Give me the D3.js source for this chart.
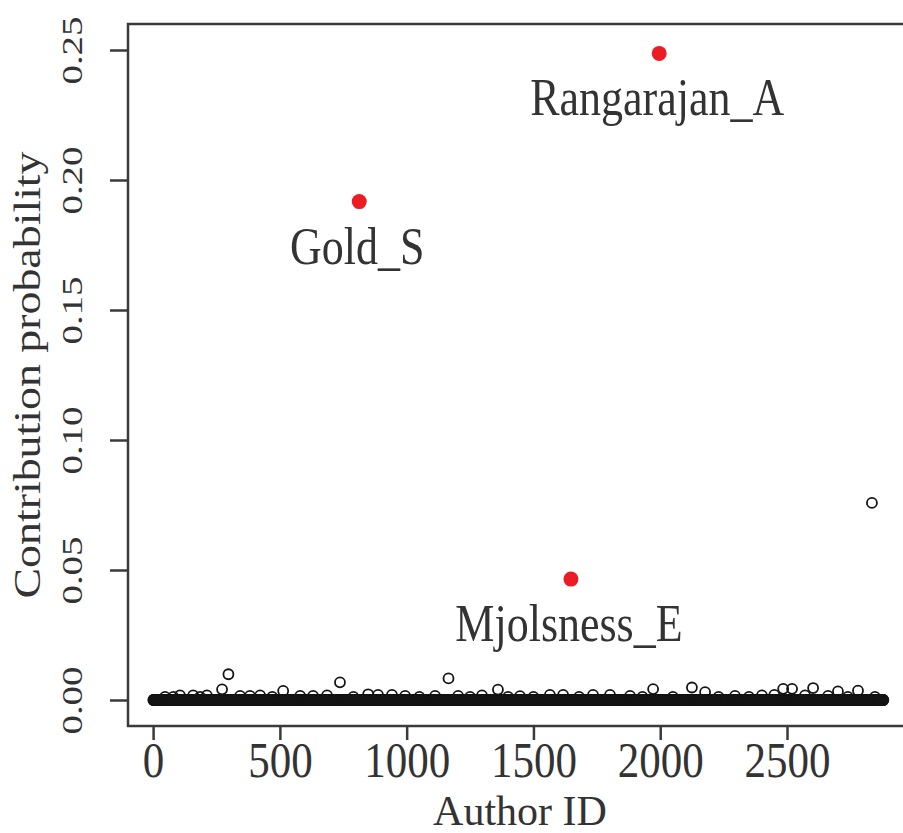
<!DOCTYPE html>
<html><head><meta charset="utf-8">
<script src="https://cdn.jsdelivr.net/npm/d3@7"></script>
<style>html,body{margin:0;padding:0;background:#fff;overflow:hidden}</style>
</head><body><svg id="chart" width="903" height="833"></svg>
<script>
// ---- data ----
const authorCount = 2880;          // authors plotted along the x axis
const baselineValue = 0;           // the bulk of authors sit at ~0
const bumpIds    = [47,80,106,158,185,212,343,382,422,470,580,631,686,790,848,887,942,994,1050,1112,1203,1250,1297,1400,1447,1500,1565,1617,1680,1735,1802,1881,1930,2050,2230,2295,2350,2401,2450,2571,2662,2740,2847];
const bumpValues = [0.0012,0.0012,0.0018,0.0018,0.0012,0.0018,0.0016,0.0016,0.0018,0.0012,0.0016,0.0016,0.0018,0.0012,0.0022,0.0020,0.0020,0.0016,0.0012,0.0016,0.0016,0.0012,0.0018,0.0012,0.0015,0.0012,0.0020,0.0020,0.0012,0.0020,0.0020,0.0016,0.0012,0.0012,0.0012,0.0016,0.0012,0.0018,0.0020,0.0018,0.0016,0.0012,0.0012];
const outlierIds    = [272,297,513,737,1165,1360,1972,2125,2177,2485,2520,2603,2701,2780,2835];
const outlierValues = [0.0041,0.0099,0.0035,0.0068,0.0083,0.0040,0.0042,0.0048,0.0030,0.0043,0.0043,0.0046,0.0033,0.0036,0.0758];
const highlightNames  = ["Gold_S","Rangarajan_A","Mjolsness_E"];
const highlightIds    = [813,1996,1648];
const highlightValues = [0.1917,0.2487,0.0465];
const xTicks = [0,500,1000,1500,2000,2500];
const yTicks = [0,0.05,0.10,0.15,0.20,0.25];
const xLimits = [-99, 2993];
const yLimits = [-0.01, 0.26];
const xTitle = "Author ID";
const yTitle = "Contribution probability";

// ---- layout ----
const M = {left:128, top:24, right:912, bottom:726};
const FONT = "'Liberation Serif','Times New Roman',serif";
const INK = "#333";

const svg = d3.select("#chart");
const x = d3.scaleLinear().domain(xLimits).range([M.left, M.right]);
const y = d3.scaleLinear().domain(yLimits).range([M.bottom, M.top]);

const valueById = new Map();
bumpIds.forEach((id,i)=>valueById.set(id,bumpValues[i]));
outlierIds.forEach((id,i)=>valueById.set(id,outlierValues[i]));
const points = d3.range(1, authorCount+1).map(id => ({id, value: valueById.has(id) ? valueById.get(id) : baselineValue}));

// points
svg.append("g").selectAll("circle").data(points).join("circle")
  .attr("cx", d=>x(d.id)).attr("cy", d=>y(d.value)).attr("r", 5)
  .attr("fill","none").attr("stroke","#151515").attr("stroke-width",1.8);

const hl = highlightNames.map((n,i)=>({name:n, id:highlightIds[i], value:highlightValues[i]}));
svg.append("g").selectAll("circle").data(hl).join("circle")
  .attr("cx", d=>x(d.id)).attr("cy", d=>y(d.value)).attr("r", 7.5)
  .attr("fill","#ec1c24");
svg.append("g").selectAll("text").data(hl).join("text")
  .attr("transform", d=>`translate(${x(d.id)-2},${y(d.value)+62}) scale(1,1.2)`)
  .attr("text-anchor","middle").style("font-family",FONT).style("font-size","44px")
  .attr("fill",INK).text(d=>d.name);

// box
svg.append("rect").attr("x",M.left).attr("y",M.top)
  .attr("width",M.right-M.left).attr("height",M.bottom-M.top)
  .attr("fill","none").attr("stroke","#3a3a3a").attr("stroke-width",2.5);

// x axis
const gx = svg.append("g").attr("transform",`translate(0,${M.bottom})`)
  .call(d3.axisBottom(x).tickValues(xTicks).tickSize(14).tickSizeOuter(0).tickFormat(d3.format("d")));
gx.select(".domain").remove();
gx.selectAll(".tick line").attr("stroke","#3a3a3a").attr("stroke-width",2.5);
gx.selectAll(".tick text").attr("y",0).attr("dy",0)
  .attr("transform","translate(0,51) scale(1,1.17)")
  .style("font-family",FONT).style("font-size","43px").attr("fill",INK);

// y axis
const gy = svg.append("g").attr("transform",`translate(${M.left},0)`)
  .call(d3.axisLeft(y).tickValues(yTicks).tickSize(18).tickSizeOuter(0).tickFormat(d3.format(".2f")));
gy.select(".domain").remove();
gy.selectAll(".tick line").attr("stroke","#3a3a3a").attr("stroke-width",2.5);
gy.selectAll(".tick text").attr("x",0).attr("y",0).attr("dy",0)
  .attr("text-anchor","middle")
  .attr("transform","translate(-46,0) rotate(-90) scale(1.3,1)")
  .style("font-family",FONT).style("font-size","30px").attr("fill",INK);

// titles
svg.append("text").attr("x",(M.left+M.right)/2).attr("y",825)
  .attr("text-anchor","middle").style("font-family",FONT).style("font-size","42px")
  .attr("fill",INK).text(xTitle);
svg.append("text")
  .attr("transform",`translate(40,${(M.top+M.bottom)/2}) rotate(-90) scale(1.24,1)`)
  .attr("text-anchor","middle").style("font-family",FONT).style("font-size","37px")
  .attr("fill",INK).text(yTitle);
</script></body></html>
